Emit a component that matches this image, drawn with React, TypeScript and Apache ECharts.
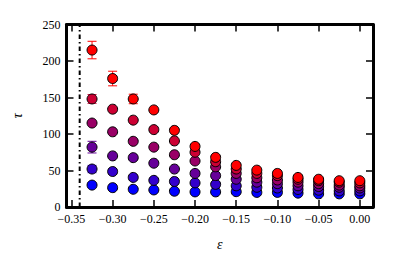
import React, { useEffect, useRef } from "react";
import * as echarts from "echarts";

const epsilon = [-0.325, -0.3, -0.275, -0.25, -0.225, -0.2, -0.175, -0.15, -0.125, -0.1, -0.075, -0.05, -0.025, 0];
const tauBlue = [30, 26.5, 24.3, 23.4, 21.6, 20.7, 20.7, 21, 20, 20, 19, 18, 18, 18];
const tauIndigo = [52, 48.6, 40.5, 36.5, 35, 33, 31, 29, 27, 26, 24, 23, 22, 22];
const tauPurple = [82, 70, 67.6, 60, 52, 46, 43, 38, 34, 32, 29, 28, 27, 26];
const tauMaroon = [115, 103, 90, 82, 71.6, 63, 55, 46, 40, 37, 34, 32, 30, 29];
const tauCrimson = [148, 134, 119, 106, 90.5, 75, 62, 52, 46, 43, 38, 36, 34, 33];
const tauRed = [215, 176, 148, 133, 105, 83, 68, 57, 50.5, 46, 40.5, 38, 36, 36];

const seriesValues = [tauBlue, tauIndigo, tauPurple, tauMaroon, tauCrimson, tauRed];
const seriesColors = ["#0000ff", "#3300cc", "#660099", "#990066", "#cc0033", "#ff0000"];

// [epsilon, tau, error, series index]
const errorBars = [
  [-0.325, 215, 12, 5],
  [-0.3, 176, 10, 5],
  [-0.275, 148, 6.5, 5],
  [-0.325, 148, 6, 4],
  [-0.325, 82, 8, 2],
  [-0.325, 52, 5, 1],
  [-0.325, 30, 3, 0],
];

const xTicks = [-0.35, -0.3, -0.25, -0.2, -0.15, -0.1, -0.05, 0];
const criticalEps = -0.34;

const font = "'Liberation Serif', serif";

export default function App() {
  const ref = useRef<HTMLDivElement>(null);
  useEffect(() => {
    if (!ref.current) return;
    const chart = echarts.init(ref.current, null, { renderer: "svg" });
    const fmt = (v: number) => (v < 0 ? "\u2212" : "") + Math.abs(v).toFixed(2);
    const axisLine = () => ({ show: true, onZero: false, lineStyle: { color: "#000", width: 3 } });
    const tick = () => ({ show: true, inside: true, length: 7, lineStyle: { color: "#000", width: 1.5 } });
    const scatterSeries = seriesValues.map((vals, i) => ({
      type: "scatter" as const,
      xAxisIndex: 0,
      yAxisIndex: 0,
      data: vals.map((v, j) => [epsilon[j], v]),
      symbol: "circle",
      symbolSize: 10,
      itemStyle: { color: seriesColors[i], borderColor: "#000", borderWidth: 1, opacity: 1 },
      z: 3,
    }));
    chart.setOption({
      animation: false,
      grid: { left: 66.5, top: 24.5, right: 42, bottom: 45.5 },
      xAxis: [
        {
          type: "value",
          min: -0.356,
          max: 0.016,
          position: "bottom",
          splitLine: { show: false },
          axisLine: axisLine(),
          axisTick: { ...tick(), customValues: xTicks },
          name: "\u03b5",
          nameLocation: "middle",
          nameGap: 30,
          nameTextStyle: { fontFamily: font, fontStyle: "italic", fontSize: 14, color: "#000" },
          axisLabel: { show: true, customValues: xTicks, formatter: fmt, fontFamily: font, fontSize: 12, color: "#000", margin: 6 },
        },
        {
          type: "value",
          min: -0.356,
          max: 0.016,
          position: "top",
          splitLine: { show: false },
          axisLine: axisLine(),
          axisTick: { ...tick(), customValues: xTicks },
          axisLabel: { show: false },
        },
      ],
      yAxis: [
        {
          type: "value",
          min: 0,
          max: 250,
          interval: 50,
          position: "left",
          splitLine: { show: false },
          axisLine: axisLine(),
          axisTick: tick(),
          name: "\u03c4",
          nameLocation: "middle",
          nameGap: 42,
          nameTextStyle: { fontFamily: font, fontStyle: "italic", fontSize: 14, color: "#000" },
          axisLabel: { show: true, fontFamily: font, fontSize: 12, color: "#000", margin: 6 },
        },
        {
          type: "value",
          min: 0,
          max: 250,
          interval: 50,
          position: "right",
          splitLine: { show: false },
          axisLine: axisLine(),
          axisTick: tick(),
          axisLabel: { show: false },
        },
      ],
      series: [
        {
          type: "line",
          data: [[criticalEps, 0], [criticalEps, 250]],
          symbol: "none",
          lineStyle: { color: "#000", width: 2, type: [4.5, 3, 1.5, 3] },
          z: 1,
        },
        {
          type: "custom",
          data: errorBars,
          z: 2,
          renderItem: (params: any, api: any) => {
            const x = api.value(0);
            const y = api.value(1);
            const e = api.value(2);
            const c = seriesColors[api.value(3)];
            const top = api.coord([x, y + e]);
            const bot = api.coord([x, y - e]);
            const hw = 4.5;
            const style = { stroke: c, lineWidth: 1 };
            return {
              type: "group",
              children: [
                { type: "line", shape: { x1: top[0], y1: top[1], x2: bot[0], y2: bot[1] }, style },
                { type: "line", shape: { x1: top[0] - hw, y1: top[1], x2: top[0] + hw, y2: top[1] }, style },
                { type: "line", shape: { x1: bot[0] - hw, y1: bot[1], x2: bot[0] + hw, y2: bot[1] }, style },
              ],
            };
          },
        },
        ...scatterSeries,
      ],
    });
    return () => chart.dispose();
  }, []);
  return <div ref={ref} style={{ position: "absolute", left: 0, top: 0, width: 415, height: 256 }} />;
}
